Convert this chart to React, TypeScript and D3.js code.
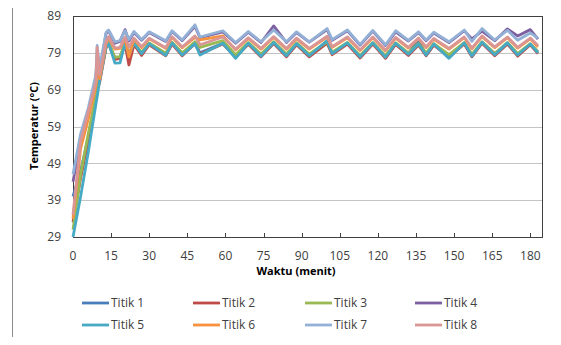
import React, { useEffect, useRef } from 'react';
import * as d3 from 'd3';

// waktu pengukuran (menit)
const menit = [
  0, 3, 6, 9, 9.5, 10.5, 13, 14, 16.5, 18.5, 20.5, 22, 24, 27, 30, 36.5, 39, 43, 48, 50,
  59, 64, 69, 74, 79, 84, 88, 93, 100, 102, 108, 113, 118, 123, 127, 132, 136, 139, 142, 148,
  154, 157, 161, 166, 171, 175, 180, 183,
];

const titik1 = [
  40, 47, 56, 67, 70, 72, 80.6, 81.7, 77.5, 77.8, 81.5, 78.5, 81.5, 78.9, 81.4, 78.6, 81.6, 78.7, 81.7, 79,
  81.6, 78.2, 81.5, 78.4, 81.7, 78.4, 81.4, 78.4, 81.8, 79, 81.6, 78.1, 81.6, 78, 81.5, 78.8, 82.6, 78.3, 81.3, 78.2,
  81.6, 78.4, 81.8, 78.7, 81.6, 78.6, 81.3, 79.2,
];
const titik2 = [
  33, 45, 55, 66, 69, 71, 80.4, 81.5, 77.2, 77.5, 81.3, 75.7, 81.2, 78.3, 81.2, 78.2, 81.4, 78.2, 81.5, 78.7,
  81.4, 77.8, 81.3, 77.9, 81.5, 77.9, 81.2, 77.9, 81.6, 78.5, 81.4, 77.6, 81.4, 77.5, 81.3, 78.3, 81.1, 78.2, 81.1, 77.8,
  81.4, 77.9, 81.6, 78.2, 81.4, 78.1, 81.2, 78.8,
];
const titik3 = [
  31, 46, 57, 67, 70, 72, 80.8, 81.9, 77.8, 78, 81.7, 78.8, 81.7, 79.1, 81.7, 78.9, 81.9, 79, 82, 80.5,
  82.3, 78.5, 81.8, 78.7, 82, 78.7, 81.7, 78.7, 82, 79.2, 81.8, 78.3, 81.8, 78.2, 81.7, 79, 81.5, 79, 81.5, 78.5,
  81.8, 78.6, 82, 78.9, 81.8, 78.8, 81.5, 79.4,
];
const titik4 = [
  44, 55, 63, 72, 78, 74, 84.2, 85, 81.6, 82.1, 85.3, 82.2, 84.5, 82.4, 84.5, 82.1, 84.8, 82.3, 86.2, 83.1,
  84.7, 81.6, 84.6, 81.8, 86.3, 81.8, 84.5, 81.9, 85.3, 82.4, 85, 81.1, 84.9, 81, 84.7, 82.2, 84.5, 82.3, 84.4, 81.8,
  85, 82.8, 84.9, 82.3, 85.5, 83.6, 85.3, 82.7,
];
const titik5 = [
  29, 40, 52, 65, 67, 71.5, 80.5, 81.7, 76.2, 76.3, 81.6, 78.4, 81.6, 78.8, 81.5, 78.3, 81.7, 78.4, 81.5, 78.4,
  81.6, 77.5, 81.6, 78.1, 81.8, 78.2, 81.5, 78.2, 82.3, 78.8, 81.7, 77.9, 81.7, 77.8, 81.6, 78.6, 81.4, 78.4, 81.4, 77.5,
  81.7, 78.1, 81.9, 78.5, 81.7, 78.4, 81.4, 79,
];
const titik6 = [
  34, 53, 61, 70, 74, 72, 81.5, 83, 80, 80.2, 83, 77.9, 82.7, 80.4, 82.8, 80.2, 83.2, 80.4, 83.2, 82.5,
  83.6, 79.8, 82.9, 80, 83.2, 80, 82.8, 80, 83.3, 80.5, 83.1, 79.6, 83.1, 79.5, 83, 80.3, 82.8, 80.4, 82.7, 80,
  83.1, 80.1, 83.4, 80.4, 83.1, 80.3, 82.8, 80.6,
];
const titik7 = [
  46, 57, 64, 73, 81, 75, 84.5, 85.2, 82, 82.3, 85, 82.6, 84.8, 82.6, 84.7, 82.3, 85, 82.5, 86.6, 83.3,
  85, 81.8, 84.8, 82, 85.2, 82, 84.7, 82, 85.6, 82.6, 85.2, 81.3, 85.1, 81.2, 85, 82.4, 84.7, 82.5, 84.6, 82,
  85.2, 82.1, 85.6, 82.5, 85.1, 82.4, 84.4, 83,
];
const titik8 = [
  35, 55, 63, 71, 80.5, 73, 82, 83.4, 80.3, 80.5, 83.2, 80.6, 83, 80.7, 83, 80.4, 83.4, 80.6, 83.6, 81.2,
  83.3, 80, 83.1, 80.2, 83.4, 80.2, 83, 80.2, 83.5, 80.7, 83.3, 79.8, 83.3, 79.7, 83.2, 80.5, 83, 80.6, 82.9, 80.2,
  83.3, 80.3, 83.6, 80.6, 83.3, 80.5, 83, 81,
];

const seriesNames = ['Titik 1', 'Titik 2', 'Titik 3', 'Titik 4', 'Titik 5', 'Titik 6', 'Titik 7', 'Titik 8'];
const seriesValues = [titik1, titik2, titik3, titik4, titik5, titik6, titik7, titik8];
const colors = ['#4A7EBB', '#BE4B48', '#98B954', '#7D60A0', '#46AAC5', '#F69240', '#93B1D6', '#D99694'];

const yTicks = [29, 39, 49, 59, 69, 79, 89];
const xTicks = [0, 15, 30, 45, 60, 75, 90, 105, 120, 135, 150, 165, 180];

const FONT = '"Open Sans", "Liberation Sans", sans-serif';

const App = () => {
  const ref = useRef<SVGSVGElement | null>(null);

  useEffect(() => {
    const svg = d3.select(ref.current);
    svg.selectAll('*').remove();

    const plot = { left: 73, right: 542, top: 16, bottom: 237 };

    const x = d3.scaleLinear().domain([0, 184.6]).range([plot.left, plot.right]);
    const y = d3.scaleLinear().domain([29, 89]).range([plot.bottom, plot.top]);

    svg.append('rect').attr('width', 561).attr('height', 345).attr('fill', '#fff');

    // chart area border (runs off the right and bottom)
    svg
      .append('rect')
      .attr('x', 12.5)
      .attr('y', 4.5)
      .attr('width', 700)
      .attr('height', 500)
      .attr('fill', 'none')
      .attr('stroke', '#8c8c8c');

    // gridlines
    svg
      .selectAll('.grid')
      .data(yTicks.slice(1, -1))
      .enter()
      .append('line')
      .attr('x1', plot.left)
      .attr('x2', plot.right)
      .attr('y1', (d) => Math.round(y(d)) + 0.5)
      .attr('y2', (d) => Math.round(y(d)) + 0.5)
      .attr('stroke', '#c4c4c4')
      .attr('stroke-width', 1);

    svg
      .append('rect')
      .attr('x', plot.left + 0.5)
      .attr('y', plot.top + 0.5)
      .attr('width', plot.right - plot.left)
      .attr('height', plot.bottom - plot.top)
      .attr('fill', 'none')
      .attr('stroke', '#404040');

    // x tick marks
    svg
      .selectAll('.xtick')
      .data(xTicks.slice(1))
      .enter()
      .append('line')
      .attr('x1', (d) => Math.round(x(d)) + 0.5)
      .attr('x2', (d) => Math.round(x(d)) + 0.5)
      .attr('y1', plot.bottom + 0.5)
      .attr('y2', plot.bottom - 4)
      .attr('stroke', '#404040');

    svg
      .selectAll('.ylab')
      .data(yTicks)
      .enter()
      .append('text')
      .attr('x', 61)
      .attr('y', (d) => y(d))
      .attr('dy', '0.35em')
      .attr('text-anchor', 'end')
      .attr('font-family', FONT)
      .attr('font-size', 12)
      .attr('fill', '#404040')
      .text((d) => d);

    svg
      .selectAll('.xlab')
      .data(xTicks)
      .enter()
      .append('text')
      .attr('x', (d) => x(d))
      .attr('y', 256)
      .attr('dy', '0.35em')
      .attr('text-anchor', 'middle')
      .attr('font-family', FONT)
      .attr('font-size', 12)
      .attr('fill', '#404040')
      .text((d) => d);

    svg
      .append('text')
      .attr('transform', 'translate(34,126) rotate(-90)')
      .attr('dy', '0.35em')
      .attr('text-anchor', 'middle')
      .attr('font-family', FONT)
      .attr('font-size', 11)
      .attr('font-weight', 'bold')
      .attr('fill', '#000')
      .text('Temperatur (°C)');

    svg
      .append('text')
      .attr('x', 296)
      .attr('y', 271)
      .attr('dy', '0.35em')
      .attr('text-anchor', 'middle')
      .attr('font-family', FONT)
      .attr('font-size', 11)
      .attr('font-weight', 'bold')
      .attr('fill', '#000')
      .text('Waktu (menit)');

    const line = d3
      .line<number>()
      .x((d, i) => x(menit[i]))
      .y((d) => y(d));

    seriesValues.forEach((vals, k) => {
      svg
        .append('path')
        .datum(vals)
        .attr('d', line)
        .attr('fill', 'none')
        .attr('stroke', colors[k])
        .attr('stroke-width', 2.8)
        .attr('stroke-linejoin', 'round');
    });

    // legend
    const colX = [82, 193, 305, 415];
    const rowY = [303, 325];
    const legend = svg
      .selectAll('.legend')
      .data(seriesNames)
      .enter()
      .append('g')
      .attr('transform', (d, i) => `translate(${colX[i % 4]},${rowY[Math.floor(i / 4)]})`);

    legend
      .append('line')
      .attr('x1', 0)
      .attr('x2', 27)
      .attr('stroke', (d, i) => colors[i])
      .attr('stroke-width', 2.8);

    legend
      .append('text')
      .attr('x', 29)
      .attr('dy', '0.35em')
      .attr('font-family', FONT)
      .attr('font-size', 12)
      .attr('fill', '#404040')
      .text((d) => d);
  }, []);

  return <svg ref={ref} width={561} height={345} style={{ display: 'block', margin: -8 }} />;
};

export default App;
